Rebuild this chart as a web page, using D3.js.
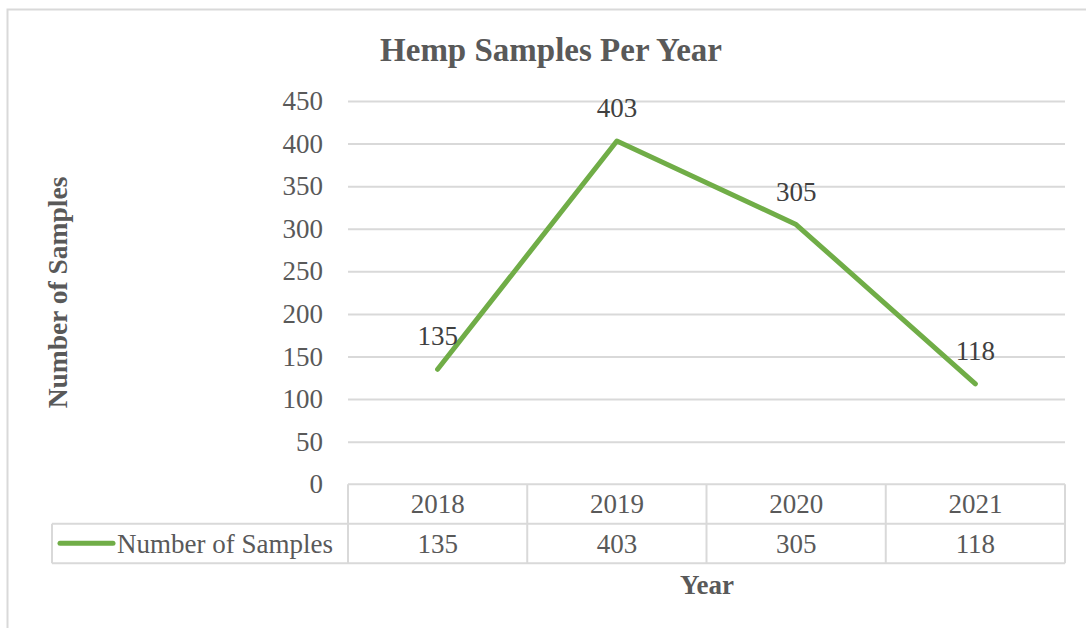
<!DOCTYPE html>
<html>
<head>
<meta charset="utf-8">
<script src="https://cdn.jsdelivr.net/npm/d3@7"></script>
<style>
  body { margin: 0; background: #fff; }
  svg text { font-family: "Liberation Serif", "Times New Roman", serif; fill: #595959; }
</style>
</head>
<body>
<svg id="chart"></svg>
<script>
// data
const years = ["2018", "2019", "2020", "2021"];
const samples = [135, 403, 305, 118];
const seriesName = "Number of Samples";
const yTicks = [0, 50, 100, 150, 200, 250, 300, 350, 400, 450];

const W = 1086, H = 628;
const plot = { left: 348, right: 1065, top: 101, bottom: 484.3 };
const rowH = 39.5;
const green = "#70AD47";
const gridColor = "#d9d9d9";

const svg = d3.select("#chart").attr("width", W).attr("height", H);

// outer chart border
svg.append("path")
  .attr("d", `M7.5,${H} V9.5 H${W}`)
  .attr("fill", "none").attr("stroke", gridColor).attr("stroke-width", 2);

const x = d3.scaleBand().domain(years).range([plot.left, plot.right]);
const y = d3.scaleLinear().domain([0, 450]).range([plot.bottom, plot.top]);

// y axis with gridlines
const yAxis = svg.append("g")
  .attr("transform", `translate(${plot.left},0)`)
  .call(d3.axisLeft(y).tickValues(yTicks).tickSize(-(plot.right - plot.left)).tickPadding(25));
yAxis.select(".domain").remove();
yAxis.selectAll(".tick line").attr("stroke", gridColor).attr("stroke-width", 2)
  .filter(d => d === 0).remove();
yAxis.selectAll(".tick text")
  .attr("font-size", 27).attr("fill", "#595959")
  .style("font-family", "Liberation Serif, serif");

// data table
const table = svg.append("g").attr("class", "table");
const t0 = plot.bottom, t1 = plot.bottom + rowH, t2 = plot.bottom + 2 * rowH;
const legendLeft = 52;
const lines = [
  [plot.left, t0, plot.right, t0],
  [legendLeft, t1, plot.right, t1],
  [legendLeft, t2, plot.right, t2],
  [legendLeft, t1, legendLeft, t2]
];
[plot.left, ...years.map(d => x(d) + x.bandwidth())].forEach(xx => lines.push([xx, t0, xx, t2]));
table.selectAll("line").data(lines).join("line")
  .attr("x1", d => d[0]).attr("y1", d => d[1]).attr("x2", d => d[2]).attr("y2", d => d[3])
  .attr("stroke", gridColor).attr("stroke-width", 2);

table.selectAll("text.year").data(years).join("text")
  .attr("class", "year")
  .attr("x", d => x(d) + x.bandwidth() / 2)
  .attr("y", t0 + 29)
  .attr("text-anchor", "middle").attr("font-size", 27)
  .text(d => d);

table.selectAll("text.val").data(samples).join("text")
  .attr("class", "val")
  .attr("x", (d, i) => x(years[i]) + x.bandwidth() / 2)
  .attr("y", t1 + 29)
  .attr("text-anchor", "middle").attr("font-size", 27)
  .text(d => d);

// legend key in table
table.append("line")
  .attr("x1", 60).attr("x2", 113).attr("y1", t1 + 19.5).attr("y2", t1 + 19.5)
  .attr("stroke", green).attr("stroke-width", 5).attr("stroke-linecap", "round");
table.append("text")
  .attr("x", 117).attr("y", t1 + 29).attr("font-size", 27)
  .text(seriesName);

// series line
const line = d3.line()
  .x((d, i) => x(years[i]) + x.bandwidth() / 2)
  .y(d => y(d));
svg.append("path")
  .datum(samples)
  .attr("d", line)
  .attr("fill", "none").attr("stroke", green).attr("stroke-width", 5)
  .attr("stroke-linecap", "round").attr("stroke-linejoin", "round");

// data labels
svg.selectAll("text.label").data(samples).join("text")
  .attr("class", "label")
  .attr("x", (d, i) => x(years[i]) + x.bandwidth() / 2)
  .attr("y", d => y(d) - 24)
  .attr("text-anchor", "middle").attr("font-size", 27).attr("fill", "#404040")
  .style("fill", "#404040")
  .text(d => d);

// titles
svg.append("text")
  .attr("x", 551).attr("y", 61).attr("text-anchor", "middle")
  .attr("font-size", 33).attr("font-weight", "bold")
  .text("Hemp Samples Per Year");

svg.append("text")
  .attr("transform", `translate(67,${(175 + 410) / 2}) rotate(-90)`)
  .attr("text-anchor", "middle").attr("font-size", 27.5).attr("font-weight", "bold")
  .text("Number of Samples");

svg.append("text")
  .attr("x", 707).attr("y", 594).attr("text-anchor", "middle")
  .attr("font-size", 27).attr("font-weight", "bold")
  .text("Year");
</script>
</body>
</html>
